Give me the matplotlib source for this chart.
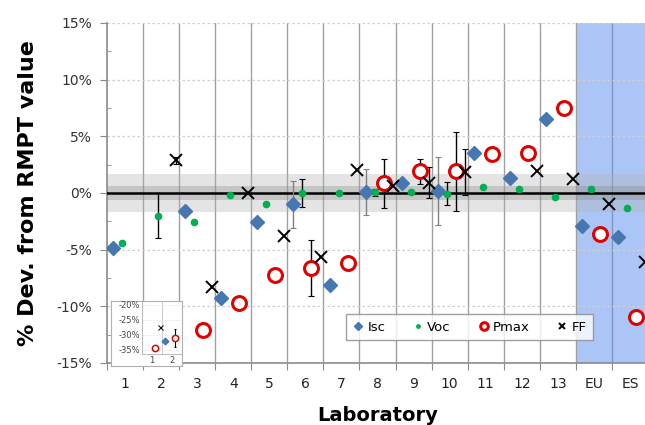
import numpy as np
import matplotlib
matplotlib.use('Agg')
import matplotlib.pyplot as plt
from matplotlib.ticker import MultipleLocator, FixedLocator, FuncFormatter

nan = np.nan

# laboratories along x
labs = ['1', '2', '3', '4', '5', '6', '7', '8', '9', '10', '11', '12', '13', 'EU', 'ES']

# % deviation from RMPT value for each parameter
isc = [-4.85, -32.3, -1.6, -9.3, -2.6, -1.0, -8.1, 0.1, 0.85, 0.15, 3.5, 1.3, 6.55, -2.9, -3.9]
voc = [-4.45, -2.0, -2.6, -0.2, -1.0, 0.0, 0.0, 0.05, 0.1, -0.05, 0.5, 0.33, -0.33, 0.32, -1.35]
pmax = [-34.6, -31.2, -12.1, -9.7, -7.2, -6.6, -6.2, 0.85, 1.9, 1.9, 3.4, 3.5, 7.5, -3.65, -10.9]
ff = [-27.4, 2.9, -8.25, 0.0, -3.8, -5.65, 2.0, 0.65, 0.92, 1.85, nan, 1.9, 1.2, -1.0, -6.05]

# uncertainties (0 = no bar drawn)
isc_err = [0, 0, 0, 0, 0, 2.1, 0, 2.0, 0, 3.0, 0, 0, 0, 0.4, 0.4]
voc_err = [0, 2.0, 0, 0, 0, 1.26, 0, 0.3, 0, 1.0, 0, 0, 0, 0, 0]
pmax_err = [0, 3.0, 0, 0, 0, 2.45, 0, 2.15, 1.1, 3.5, 0, 0, 0, 0.45, 0.6]
ff_err = [0, 0.3, 0, 0, 0, 0, 0, 0, 1.4, 2.0, 0, 0, 0, 0, 0]

# uncertainty bands around zero
band_outer = 1.7
band_inner = 0.6

series = [
    ('Isc', isc, isc_err, 0.17, dict(marker='D', ms=7.5, color='#4677b0', ls='none'), '#808080'),
    ('Voc', voc, voc_err, 0.42, dict(marker='o', ms=4.5, color='#00b050', ls='none'), 'black'),
    ('Pmax', pmax, pmax_err, 0.67, dict(marker='o', ms=10, mfc='white', mec='#e00000', mew=2.2, ls='none'), 'black'),
    ('FF', ff, ff_err, 0.92, dict(marker='x', ms=8, color='black', mew=1.4, ls='none'), 'black'),
]

n = len(labs)
x0 = np.arange(n)


def draw_series(ax, small=False):
    for name, vals, err, off, style, ecol in series:
        vals = np.array(vals, dtype=float)
        err = np.array(err, dtype=float)
        st = dict(style)
        if small:
            st['ms'] = st['ms'] * 0.45
            if 'mew' in st:
                st['mew'] = st['mew'] * 0.5
        has = err > 0
        if has.any():
            ax.errorbar(x0[has] + off, vals[has], yerr=err[has], fmt='none',
                        ecolor=ecol, elinewidth=0.8 if small else 1.0,
                        capsize=1 if small else 2, capthick=0.8, zorder=4)
        ax.plot(x0 + off, vals, label=name, zorder=5, **st)


fig = plt.figure(figsize=(6.45, 4.25), dpi=100)
ax = fig.add_axes([107 / 645, 62 / 425, 541 / 645, 340 / 425])

ax.set_xlim(0, n)
ax.set_ylim(-15, 15)

# EU / ES shaded
ax.axvspan(13, n, color='#abc6f6', zorder=0, lw=0)

# vertical separators
for b in range(1, n):
    ax.axvline(b, color='#a0a0a0' if b < 14 else '#7f95c4', lw=1.0, zorder=1)

# dotted horizontal gridlines
for yy in [-10, -5, 5, 10, 15]:
    ax.axhline(yy, color='#cfcfcf', lw=0.9, ls=(0, (2, 2)), zorder=1)

ax.axhspan(-band_outer, band_outer, color='#b4b4b4', alpha=0.35, lw=0, zorder=2)
ax.axhspan(-band_inner, band_inner, color='#808080', alpha=0.3, lw=0, zorder=2)
ax.axhline(0, color='black', lw=1.8, zorder=3)

draw_series(ax)

# axes styling
for s in ['top', 'right']:
    ax.spines[s].set_visible(False)
for s in ['left', 'bottom']:
    ax.spines[s].set_color('#8a8a8a')
    ax.spines[s].set_linewidth(1.2)

ax.yaxis.set_major_locator(MultipleLocator(5))
ax.yaxis.set_minor_locator(MultipleLocator(2.5))
ax.yaxis.set_major_formatter(FuncFormatter(lambda v, p: '%d%%' % round(v)))
ax.tick_params(axis='y', which='major', length=5, direction='out', color='#8a8a8a',
               labelsize=10, labelcolor='#333333', pad=6)
ax.tick_params(axis='y', which='minor', length=3, direction='in', color='#8a8a8a')

ax.xaxis.set_major_locator(FixedLocator(np.arange(0, n + 1)))
ax.xaxis.set_major_formatter(FuncFormatter(lambda v, p: ''))
ax.xaxis.set_minor_locator(FixedLocator(x0 + 0.5))
ax.set_xticklabels(labs, minor=True)
ax.tick_params(axis='x', which='major', length=5, direction='out', color='#8a8a8a')
ax.tick_params(axis='x', which='minor', length=0, labelsize=10, labelcolor='#222222', pad=10)

ax.set_ylabel('% Dev. from RMPT value', fontsize=16, fontweight='bold', labelpad=13)
ax.set_xlabel('Laboratory', fontsize=14, fontweight='bold', labelpad=11)

leg = ax.legend(loc='lower left', bbox_to_anchor=(0.43, 0.047, 0.481, 0.094), mode='expand',
                ncol=4, fontsize=9.5, frameon=True, fancybox=False, markerscale=0.55,
                handlelength=0.8, handletextpad=0.3, columnspacing=1.0, borderpad=0.5)
leg.get_frame().set_edgecolor('#8a8a8a')
leg.get_frame().set_linewidth(1.0)
leg.set_zorder(10)

# inset with off-scale points
box = fig.add_axes([111 / 645, (425 - 366) / 425, 71 / 645, 65 / 425])
box.set_xticks([]); box.set_yticks([])
box.set_facecolor('white')
for s in box.spines.values():
    s.set_color('#b0b0b0')
    s.set_linewidth(0.8)
box.set_zorder(8)

ins = fig.add_axes([142 / 645, (425 - 354) / 425, 40 / 645, 53 / 425])
ins.set_zorder(9)
ins.set_facecolor('none')
ins.set_xlim(0, 2)
ins.set_ylim(-36.5, -18.7)
ins.axvline(1, color='#c0c0c0', lw=0.6, zorder=1)
for yy in [-20, -25, -30, -35]:
    ins.axhline(yy, color='#dddddd', lw=0.5, ls=(0, (2, 2)), zorder=1)
draw_series(ins, small=True)
for s in ['top', 'right']:
    ins.spines[s].set_visible(False)
for s in ['left', 'bottom']:
    ins.spines[s].set_color('#b0b0b0')
    ins.spines[s].set_linewidth(0.6)
ins.set_yticks([-20, -25, -30, -35])
ins.set_yticklabels(['-20%', '-25%', '-30%', '-35%'])
ins.set_xticks([0.5, 1.5])
ins.set_xticklabels(['1', '2'])
ins.tick_params(labelsize=6, length=0, pad=1.5, labelcolor='#444444')

fig.savefig('out.png', dpi=100)
